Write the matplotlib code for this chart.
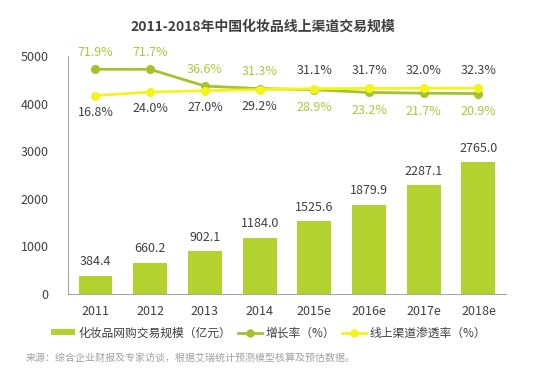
import numpy as np
import matplotlib.pyplot as plt
from matplotlib.lines import Line2D
from matplotlib.patches import Patch

plt.rcParams['font.family'] = ['Noto Sans CJK SC', 'DejaVu Sans']

years = ['2011', '2012', '2013', '2014', '2015e', '2016e', '2017e', '2018e']
scale = [384.4, 660.2, 902.1, 1184.0, 1525.6, 1879.9, 2287.1, 2765.0]
growth = [71.9, 71.7, 36.6, 31.3, 28.9, 23.2, 21.7, 20.9]
penetration = [16.8, 24.0, 27.0, 29.2, 31.1, 31.7, 32.0, 32.3]

bar_color = '#b3d12f'
growth_color = '#a3c22c'
growth_text = '#a9c93a'
pen_color = '#f4f41a'
dark = '#404040'

fig = plt.figure(figsize=(5.54, 3.88), dpi=100)
ax = fig.add_axes([0.123, 0.242, 0.79, 0.614])
x = np.arange(len(years))

ax.bar(x, scale, width=0.62, color=bar_color, zorder=2)
for xi, v in zip(x, scale):
    ax.annotate(f'{v:.1f}', (xi, v), xytext=(0, 10), textcoords='offset points',
                ha='center', va='center', fontsize=9, color=dark)

ax.set_xlim(-0.5, 7.5)
ax.set_ylim(0, 5000)
ax.set_yticks([0, 1000, 2000, 3000, 4000, 5000])
ax.set_xticks(x)
ax.set_xticklabels(years)
ax.tick_params(length=0, labelsize=9, colors=dark, pad=8)
ax.tick_params(axis='y', pad=14)
for s in ['top', 'right']:
    ax.spines[s].set_visible(False)
for s in ['left', 'bottom']:
    ax.spines[s].set_color('#a6a6a6')

# rates on a hidden axis: 0% sits at 4000, 100% at 5000
ax2 = ax.twinx()
ax2.set_ylim(-400, 100)
ax2.axis('off')
ax2.plot(x, growth, color=growth_color, lw=2, marker='o', ms=5.5, zorder=3)
ax2.plot(x, penetration, color=pen_color, lw=2, marker='o', ms=5.5, zorder=4)

for xi, g, p in zip(x, growth, penetration):
    dg = 12 if g > p else -13
    ax2.annotate(f'{g:.1f}%', (xi, g), xytext=(0, dg), textcoords='offset points',
                 ha='center', va='center', fontsize=9, color=growth_text,
                 annotation_clip=False)
    ax2.annotate(f'{p:.1f}%', (xi, p), xytext=(0, -dg), textcoords='offset points',
                 ha='center', va='center', fontsize=9, color=dark,
                 annotation_clip=False)

fig.text(0.475, 0.93, '2011-2018年中国化妆品线上渠道交易规模', ha='center', va='center',
         fontsize=10, fontweight='bold', color=dark)

handles = [
    Patch(facecolor=bar_color),
    Line2D([], [], color=growth_color, lw=2, marker='o', ms=5),
    Line2D([], [], color=pen_color, lw=2, marker='o', ms=5),
]
labels = ['化妆品网购交易规模（亿元）', '增长率（%）', '线上渠道渗透率（%）']
fig.legend(handles, labels, loc='center', bbox_to_anchor=(0.485, 0.142), ncol=3,
           frameon=False, fontsize=8.5, handlelength=2.0, handleheight=0.45,
           columnspacing=0.6, handletextpad=0.3, labelcolor=dark)

fig.text(0.047, 0.077, '来源：综合企业财报及专家访谈，根据艾瑞统计预测模型核算及预估数据。',
         ha='left', va='center', fontsize=7.2, color='#a0a0a0')

plt.savefig('out.png', dpi=100)
